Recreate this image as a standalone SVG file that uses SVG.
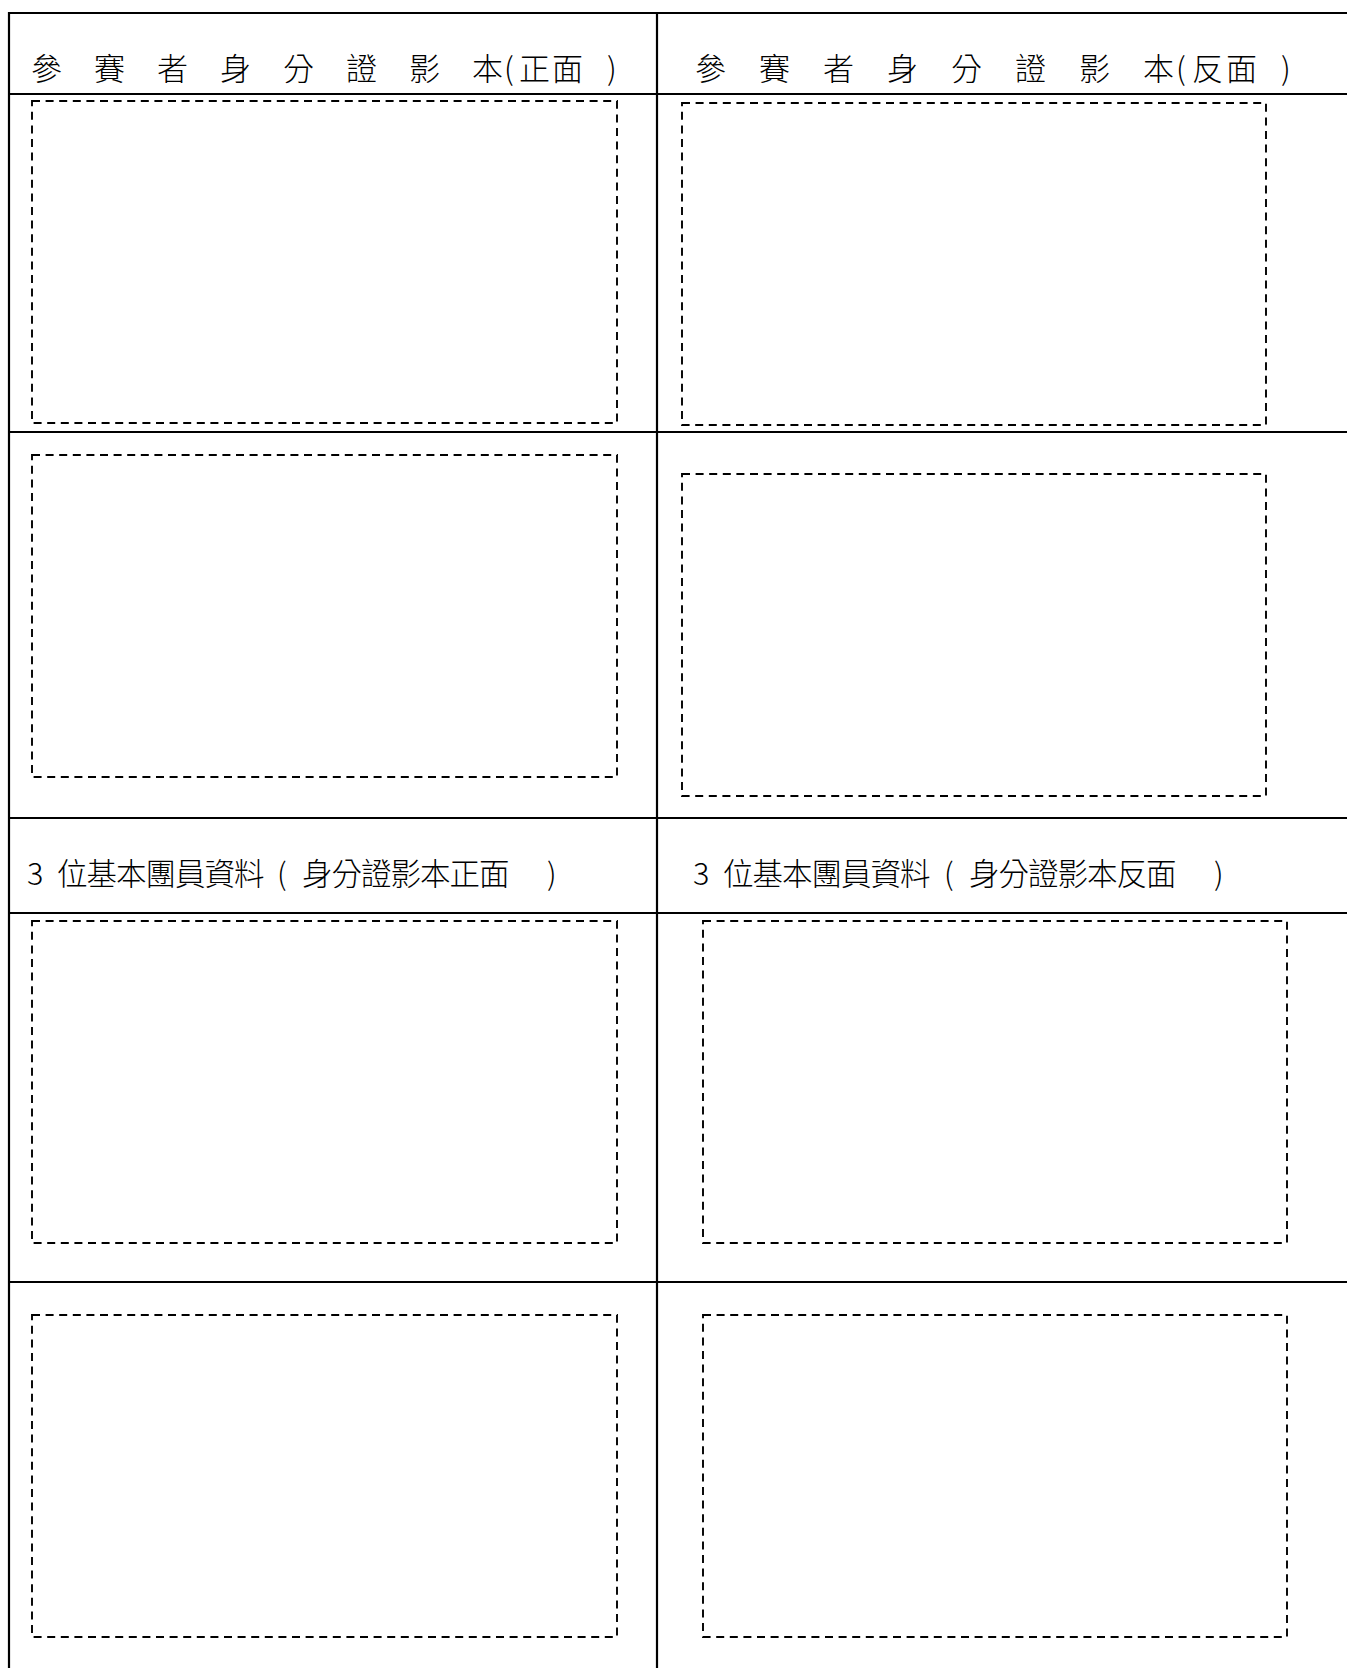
<svg xmlns="http://www.w3.org/2000/svg" width="1347" height="1668" viewBox="0 0 1347 1668">
<style>
.rule{stroke:#000;stroke-width:2.2;fill:none}
.slot{stroke:#000;stroke-width:1.9;fill:none;stroke-dasharray:8 5.6}
.t{font-family:"Noto Sans CJK TC","Noto Sans CJK SC",sans-serif;font-size:31px;font-weight:300;fill:#000}
.t2{font-family:"Noto Sans CJK TC","Noto Sans CJK SC",sans-serif;font-size:30.5px;font-weight:300;fill:#000}
</style>
<rect width="1347" height="1668" fill="#fff"/>
<g id="table-lines">
<line class="rule" x1="8" y1="13" x2="1347" y2="13"/>
<line class="rule" x1="9" y1="12" x2="9" y2="1668"/>
<line class="rule" x1="657" y1="12" x2="657" y2="1668"/>
<line class="rule" x1="8" y1="94" x2="1347" y2="94"/>
<line class="rule" x1="8" y1="432" x2="1347" y2="432"/>
<line class="rule" x1="8" y1="818" x2="1347" y2="818"/>
<line class="rule" x1="8" y1="913" x2="1347" y2="913"/>
<line class="rule" x1="8" y1="1282" x2="1347" y2="1282"/>
</g>
<g id="header-front">
<text class="t" y="80"><tspan x="31">參</tspan><tspan x="94">賽</tspan><tspan x="157">者</tspan><tspan x="220">身</tspan><tspan x="283">分</tspan><tspan x="346">證</tspan><tspan x="409">影</tspan><tspan x="472">本</tspan><tspan x="504">(</tspan><tspan x="519">正</tspan><tspan x="552">面</tspan><tspan x="607">)</tspan></text>
</g>
<g id="header-back">
<text class="t" y="80"><tspan x="695">參</tspan><tspan x="759">賽</tspan><tspan x="823">者</tspan><tspan x="887">身</tspan><tspan x="951">分</tspan><tspan x="1015">證</tspan><tspan x="1079">影</tspan><tspan x="1143">本</tspan><tspan x="1176">(</tspan><tspan x="1192">反</tspan><tspan x="1226">面</tspan><tspan x="1281">)</tspan></text>
</g>
<g id="slot-front-1"><rect class="slot" x="32" y="101" width="585" height="322"/></g>
<g id="slot-back-1"><rect class="slot" x="682" y="103" width="584" height="322"/></g>
<g id="slot-front-2"><rect class="slot" x="32" y="455" width="585" height="322"/></g>
<g id="slot-back-2"><rect class="slot" x="682" y="474" width="584" height="322"/></g>
<g id="members-front">
<text class="t2" y="885"><tspan x="27">3</tspan><tspan x="57">位</tspan><tspan x="86.5">基</tspan><tspan x="116">本</tspan><tspan x="145.5">團</tspan><tspan x="175">員</tspan><tspan x="204.5">資</tspan><tspan x="234">料</tspan><tspan x="277">(</tspan><tspan x="302">身</tspan><tspan x="331.5">分</tspan><tspan x="361">證</tspan><tspan x="390.5">影</tspan><tspan x="420">本</tspan><tspan x="449.5">正</tspan><tspan x="479">面</tspan><tspan x="547">)</tspan></text>
</g>
<g id="members-back">
<text class="t2" y="885"><tspan x="693">3</tspan><tspan x="723">位</tspan><tspan x="752.5">基</tspan><tspan x="782">本</tspan><tspan x="811.5">團</tspan><tspan x="841">員</tspan><tspan x="870.5">資</tspan><tspan x="900">料</tspan><tspan x="944">(</tspan><tspan x="969">身</tspan><tspan x="998.5">分</tspan><tspan x="1028">證</tspan><tspan x="1057.5">影</tspan><tspan x="1087">本</tspan><tspan x="1116.5">反</tspan><tspan x="1146">面</tspan><tspan x="1214">)</tspan></text>
</g>
<g id="slot-front-3"><rect class="slot" x="32" y="921" width="585" height="322"/></g>
<g id="slot-back-3"><rect class="slot" x="703" y="921" width="584" height="322"/></g>
<g id="slot-front-4"><rect class="slot" x="32" y="1315" width="585" height="322"/></g>
<g id="slot-back-4"><rect class="slot" x="703" y="1315" width="584" height="322"/></g>
</svg>
